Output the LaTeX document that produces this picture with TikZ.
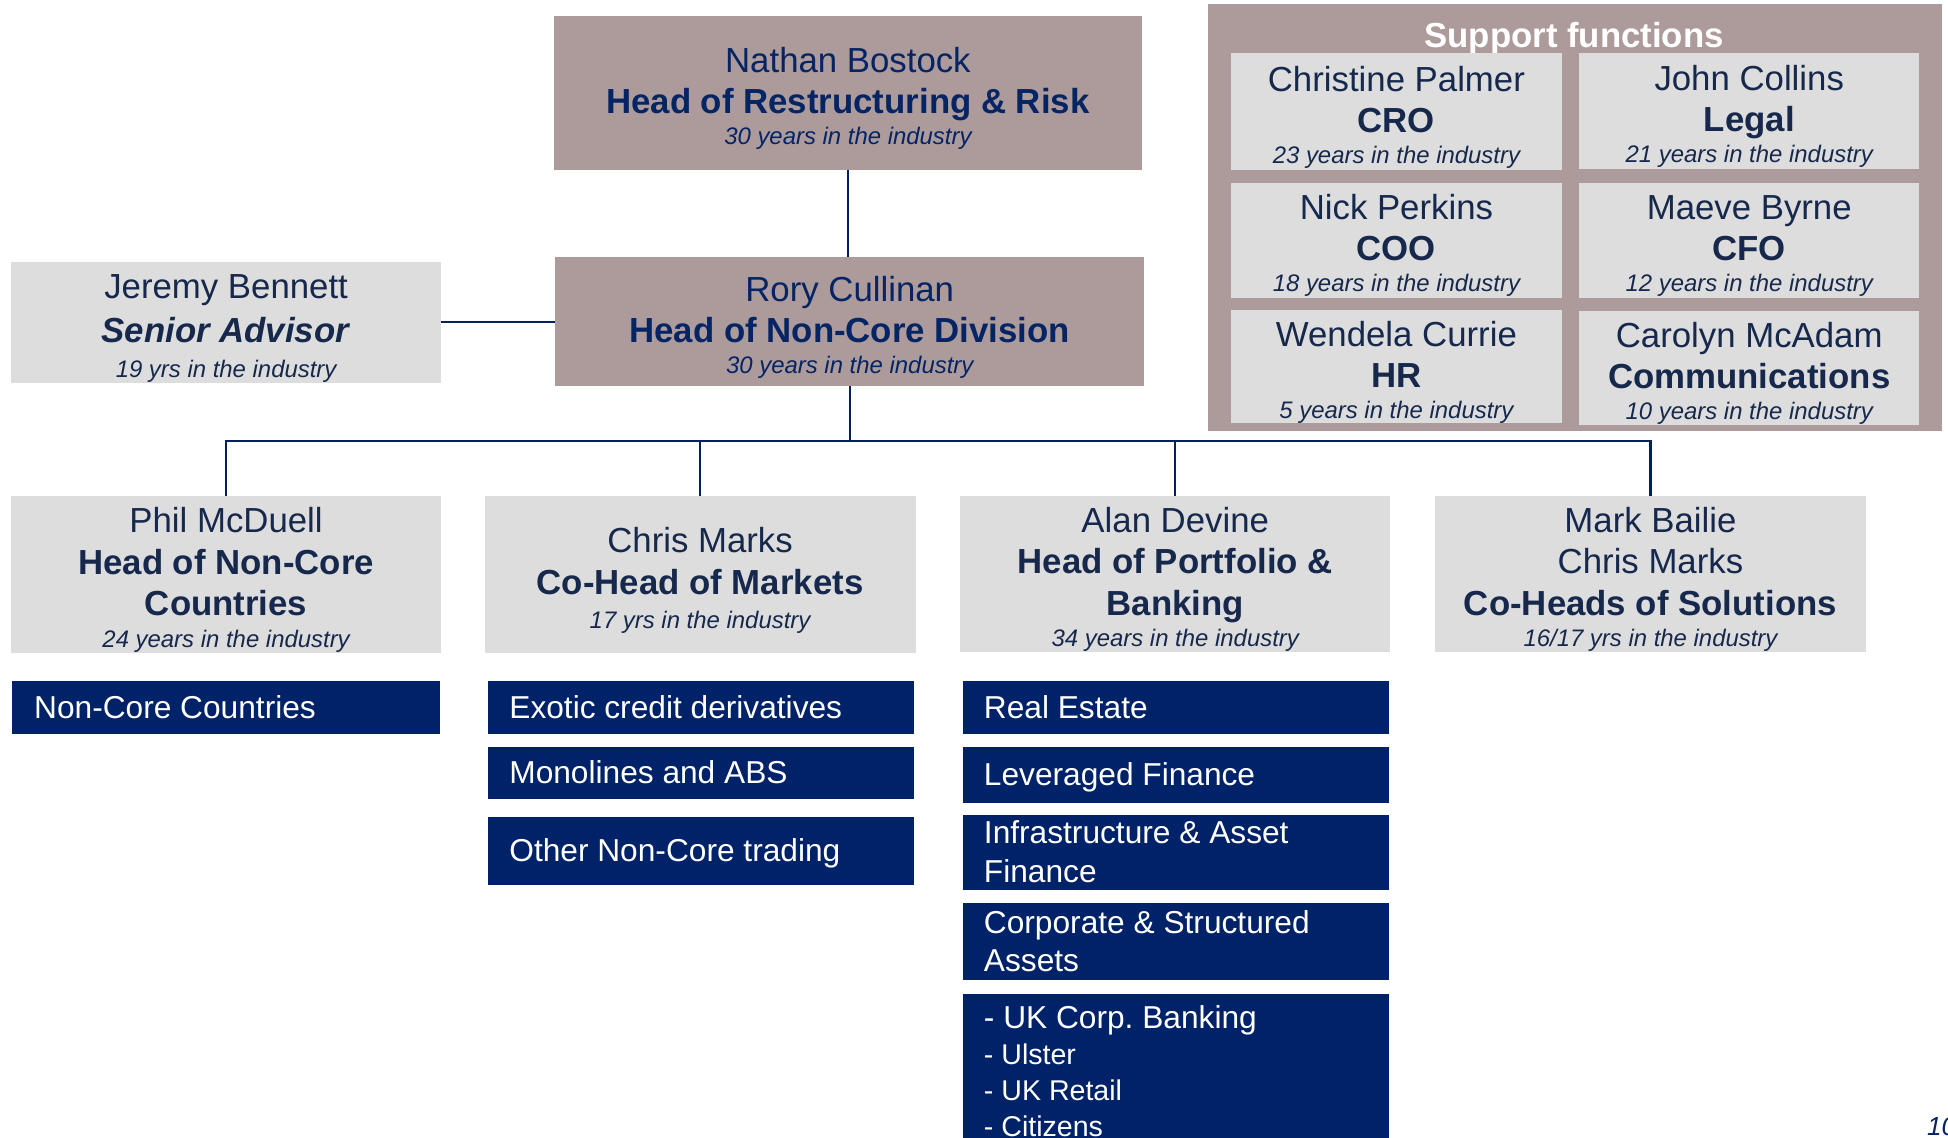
\documentclass[tikz,border=0pt]{standalone}
\usepackage{fontspec}
\setmainfont{Liberation Sans}
\frenchspacing
\definecolor{mauve}{RGB}{173,154,155}
\definecolor{lgray}{RGB}{221,221,221}
\definecolor{navyfill}{RGB}{0,34,104}
\definecolor{navytxt}{RGB}{4,36,100}
\definecolor{darktxt}{RGB}{22,40,76}
\definecolor{linecol}{RGB}{0,32,96}
\newcommand\fsz[2]{\fontsize{#1}{#2}\selectfont}
\newcommand\yrsline[1]{{\itshape\fsz{19.25}{20}#1}}
\newcommand\topstrut{\rule{0pt}{29pt}}
\newcommand\nstrut{\rule[-6pt]{0pt}{29pt}}
\tikzset{
  basebox/.style={inner sep=0pt, outer sep=0pt, draw=none},
  mbox/.style={basebox, fill=mauve, text=navytxt, align=flush center, font=\fsz{28}{33}},
  gbox/.style={basebox, fill=lgray, text=darktxt, align=flush center, font=\fsz{28}{33}},
  nbox/.style={basebox, fill=navyfill, text=white, align=flush left, inner xsep=17pt,
     minimum width=343pt, text width=309pt, font=\fsz{25.5}{31}},
  conn/.style={draw=linecol, line width=1.7pt},
}
\begin{document}
\begin{tikzpicture}[x=1pt,y=-1pt]
\useasboundingbox (0,0) rectangle (1568,916);
% top
\node[mbox, minimum width=473pt, minimum height=124pt, text width=473pt] (nathan) at (682.5,75)
  {\topstrut Nathan Bostock\\\textbf{Head of Restructuring \& Risk}\\[-8pt]\yrsline{30 years in the industry}};
\node[mbox, minimum width=474pt, minimum height=104pt, text width=474pt] (rory) at (684,259)
  {\topstrut Rory Cullinan\\\textbf{Head of Non-Core Division}\\[-8pt]\yrsline{30 years in the industry}};
\node[gbox, minimum width=346pt, minimum height=95pt, text width=346pt, font=\fsz{28}{36}] (jeremy) at (182,259.5)
  {\topstrut Jeremy Bennett\\\textbf{\textit{Senior Advisor}}\\[-8pt]\yrsline{19 yrs in the industry}};
% support functions
\node[basebox, fill=mauve, minimum width=591pt, minimum height=344pt] (support) at (1267.5,175) {};
\node[inner sep=0pt, text=white, font=\bfseries\fsz{28}{33}] (suptitle) at (1267,31) {Support functions};
\node[gbox, minimum width=266pt, minimum height=94pt, text width=266pt] (cro) at (1124,90)
  {\topstrut Christine Palmer\\\textbf{CRO}\\[-8pt]\yrsline{23 years in the industry}};
\node[gbox, minimum width=274pt, minimum height=93pt, text width=274pt] (legal) at (1408,89.5)
  {\topstrut John Collins\\\textbf{Legal}\\[-8pt]\yrsline{21 years in the industry}};
\node[gbox, minimum width=266pt, minimum height=93pt, text width=266pt] (coo) at (1124,193.5)
  {\topstrut Nick Perkins\\\textbf{COO}\\[-8pt]\yrsline{18 years in the industry}};
\node[gbox, minimum width=274pt, minimum height=93pt, text width=274pt] (cfo) at (1408,193.5)
  {\topstrut Maeve Byrne\\\textbf{CFO}\\[-8pt]\yrsline{12 years in the industry}};
\node[gbox, minimum width=266pt, minimum height=90pt, text width=266pt] (hr) at (1124,295)
  {\topstrut Wendela Currie\\\textbf{HR}\\[-8pt]\yrsline{5 years in the industry}};
\node[gbox, minimum width=274pt, minimum height=92pt, text width=274pt] (comms) at (1408,296)
  {\topstrut Carolyn McAdam\\\textbf{Communications}\\[-8pt]\yrsline{10 years in the industry}};
% second level
\node[gbox, minimum width=346pt, minimum height=127pt, text width=346pt, font=\fsz{28}{33.5}] (phil) at (182,462.5)
  {\topstrut Phil McDuell\\\textbf{Head of Non-Core}\\\textbf{Countries}\\[-8pt]\yrsline{24 years in the industry}};
\node[gbox, minimum width=347pt, minimum height=127pt, text width=347pt, font=\fsz{28}{34}] (chris) at (563.5,462.5)
  {\topstrut Chris Marks\\\textbf{Co-Head of Markets}\\[-7pt]\yrsline{17 yrs in the industry}};
\node[gbox, minimum width=346pt, minimum height=126pt, text width=346pt, font=\fsz{28}{33.5}] (alan) at (946,462)
  {\topstrut Alan Devine\\\textbf{Head of Portfolio \&}\\\textbf{Banking}\\[-8pt]\yrsline{34 years in the industry}};
\node[gbox, minimum width=347pt, minimum height=126pt, text width=347pt, font=\fsz{28}{33.5}] (mark) at (1328.5,462)
  {\topstrut Mark Bailie\\Chris Marks\\\textbf{Co-Heads of Solutions}\\[-8pt]\yrsline{16/17 yrs in the industry}};
% navy boxes
\node[nbox, minimum width=344pt, minimum height=43pt] (ncc) at (182,569.5) {\nstrut Non-Core Countries};
\node[nbox, minimum height=43pt] (exotic) at (564.5,569.5) {\nstrut Exotic credit derivatives};
\node[nbox, minimum height=42pt] (mono) at (564.5,622) {\nstrut Monolines and ABS};
\node[nbox, minimum height=54pt] (other) at (564.5,685) {\nstrut Other Non-Core trading};
\node[nbox, minimum height=43pt] (re) at (946.5,569.5) {\nstrut Real Estate};
\node[nbox, minimum height=45pt] (lf) at (946.5,623.5) {\nstrut Leveraged Finance};
\node[nbox, minimum height=58pt] (infra) at (946.5,686) {\nstrut Infrastructure \& Asset\\\nstrut Finance};
\node[nbox, minimum height=62pt] (corp) at (946.5,758) {\nstrut Corporate \& Structured\\\nstrut Assets};
\node[nbox, minimum height=124pt, font=\fsz{23}{29}] (uk) at (946.5,862)
  {{\fsz{25.5}{29}- UK Corp. Banking}\\- Ulster\\- UK Retail\\- Citizens};
% page number
\node[inner sep=0pt, anchor=base west, text=navytxt, font=\itshape\fsz{21}{24}] (pgnum) at (1551,914) {10};
% connectors
\coordinate (bus) at (683,355);
\draw[conn] (nathan.south) -- (nathan.south |- rory.north);
\draw[conn] (jeremy.east) -- (jeremy.east -| rory.west);
\draw[conn] (rory.south) -- (rory.south |- bus);
\draw[conn] (phil.north) -- (phil.north |- bus) -- (mark.north |- bus) -- (mark.north);
\draw[conn] (chris.north) -- (chris.north |- bus);
\draw[conn] (alan.north) -- (alan.north |- bus);
\end{tikzpicture}
\end{document}
